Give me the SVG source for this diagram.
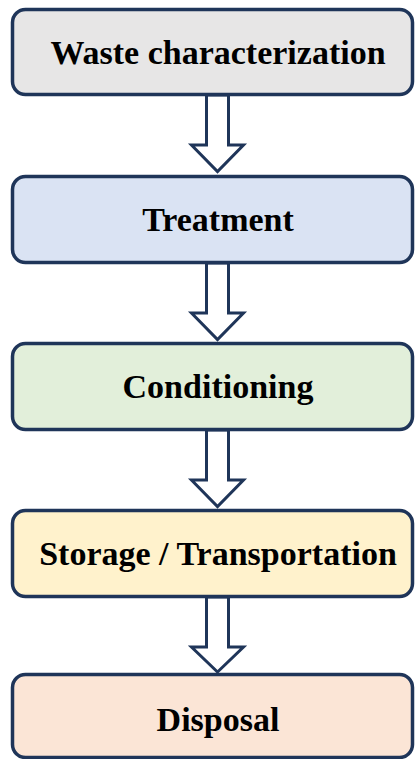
<svg xmlns="http://www.w3.org/2000/svg" width="415" height="759" viewBox="0 0 415 759">
<style>
.box{stroke:#1f3559;stroke-width:3.5}
.lbl{font-family:'Liberation Serif','Times New Roman',serif;font-weight:700;font-size:34px;fill:#000;text-anchor:middle}
.arr{fill:#fff;stroke:#1f3559;stroke-width:3;stroke-linejoin:miter}
</style>
<rect width="415" height="759" fill="#fff"/>
<g id="connectors">
<path class="arr" d="M206.5 95 L228.5 95 L228.5 145 L243.5 145 L217.5 171.5 L191.5 145 L206.5 145 Z"/>
<path class="arr" d="M206.5 263 L228.5 263 L228.5 313 L243.5 313 L217.5 339.5 L191.5 313 L206.5 313 Z"/>
<path class="arr" d="M206.5 430 L228.5 430 L228.5 480 L243.5 480 L217.5 506.5 L191.5 480 L206.5 480 Z"/>
<path class="arr" d="M206.5 597 L228.5 597 L228.5 647 L243.5 647 L217.5 672 L191.5 647 L206.5 647 Z"/>
</g>
<g id="n1">
<rect class="box" x="12.5" y="9.5" width="400" height="85" rx="13" fill="#e7e6e6"/>
<text class="lbl" x="218" y="63.5">Waste characterization</text>
</g>
<g id="n2">
<rect class="box" x="12.5" y="176.5" width="400" height="86" rx="13" fill="#dae3f3"/>
<text class="lbl" x="218" y="231">Treatment</text>
</g>
<g id="n3">
<rect class="box" x="12.5" y="343.5" width="400" height="86" rx="13" fill="#e2efda"/>
<text class="lbl" x="218" y="398">Conditioning</text>
</g>
<g id="n4">
<rect class="box" x="12.5" y="510.5" width="400" height="86" rx="13" fill="#fff2cc"/>
<text class="lbl" x="218" y="565">Storage / Transportation</text>
</g>
<g id="n5">
<rect class="box" x="12.5" y="674.5" width="400" height="83" rx="13" fill="#fbe5d6"/>
<text class="lbl" x="218" y="731">Disposal</text>
</g>
</svg>
